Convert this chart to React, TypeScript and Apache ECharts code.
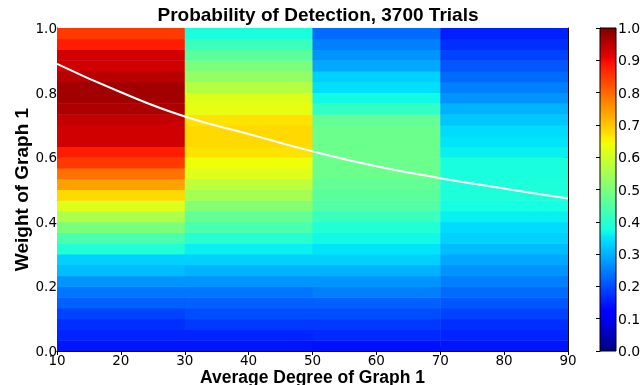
import React, { useEffect, useRef } from "react";
import * as echarts from "echarts";

// Column edges (average degree) and row count (weight 0..1)
const X_EDGES = [10, 30, 50, 70, 90];
const ROW_COUNT = 30;

// Detection probability per row, bottom (weight 0) to top (weight 1)
const col10to30 = [0.145, 0.16, 0.17, 0.19, 0.22, 0.24, 0.27, 0.31, 0.33, 0.39, 0.44, 0.5, 0.56, 0.62, 0.68, 0.74, 0.79, 0.85, 0.88, 0.93, 0.93, 0.94, 0.96, 0.97, 0.97, 0.95, 0.93, 0.93, 0.88, 0.85];
const col30to50 = [0.145, 0.16, 0.18, 0.2, 0.22, 0.24, 0.27, 0.3, 0.33, 0.36, 0.4, 0.44, 0.47, 0.51, 0.55, 0.58, 0.62, 0.64, 0.67, 0.68, 0.68, 0.67, 0.63, 0.62, 0.57, 0.53, 0.5, 0.46, 0.42, 0.38];
const col50to70 = [0.14, 0.165, 0.18, 0.2, 0.22, 0.25, 0.27, 0.3, 0.33, 0.35, 0.37, 0.39, 0.42, 0.45, 0.46, 0.47, 0.48, 0.48, 0.48, 0.48, 0.48, 0.47, 0.41, 0.37, 0.345, 0.33, 0.29, 0.27, 0.25, 0.23];
const col70to90 = [0.145, 0.16, 0.17, 0.19, 0.21, 0.23, 0.25, 0.27, 0.29, 0.31, 0.33, 0.34, 0.36, 0.375, 0.385, 0.385, 0.38, 0.38, 0.36, 0.35, 0.34, 0.32, 0.3, 0.27, 0.25, 0.23, 0.21, 0.19, 0.17, 0.155];
const COLUMNS = [col10to30, col30to50, col50to70, col70to90];

// White curve
const curveX = [10, 20, 30, 40, 50, 60, 70, 80, 90];
const curveY = [0.889, 0.801, 0.726, 0.672, 0.618, 0.572, 0.535, 0.503, 0.472];

const X_TICKS_INTERVAL = 10;
const Y_TICKS_INTERVAL = 0.2;
const CBAR_TICKS_INTERVAL = 0.1;

// matplotlib jet segment data
const JET_R = [[0, 0], [0.35, 0], [0.66, 1], [0.89, 1], [1, 0.5]];
const JET_G = [[0, 0], [0.125, 0], [0.375, 1], [0.64, 1], [0.91, 0], [1, 0]];
const JET_B = [[0, 0.5], [0.11, 1], [0.34, 1], [0.65, 0], [1, 0]];

function seg(s: number[][], v: number) {
  if (v <= s[0][0]) return s[0][1];
  for (let i = 1; i < s.length; i++) {
    if (v <= s[i][0]) {
      const t = (v - s[i - 1][0]) / (s[i][0] - s[i - 1][0]);
      return s[i - 1][1] + t * (s[i][1] - s[i - 1][1]);
    }
  }
  return s[s.length - 1][1];
}
function jet(v: number) {
  const r = Math.round(seg(JET_R, v) * 255);
  const g = Math.round(seg(JET_G, v) * 255);
  const b = Math.round(seg(JET_B, v) * 255);
  return `rgb(${r},${g},${b})`;
}

export default function App() {
  const ref = useRef<HTMLDivElement>(null);
  useEffect(() => {
    if (!ref.current) return;
    const chart = echarts.init(ref.current, undefined, { renderer: "svg" });

    const cells: number[][] = [];
    COLUMNS.forEach((col, c) => {
      col.forEach((v, r) => {
        cells.push([X_EDGES[c], X_EDGES[c + 1], r / ROW_COUNT, (r + 1) / ROW_COUNT, v]);
      });
    });

    const breaks = Array.from(
      new Set([...JET_R, ...JET_G, ...JET_B].map((p) => p[0]))
    ).sort((a, b) => a - b);
    const stops = breaks.map((o) => ({ offset: o, color: jet(o) }));

    const tickFont = { color: "#000", fontSize: 13.5, lineHeight: 13, fontFamily: "DejaVu Sans" };
    const nameFont = {
      color: "#000",
      fontSize: 19,
      lineHeight: 19,
      fontWeight: "bold" as const,
      fontFamily: "Liberation Sans, Arial",
    };
    const blackLine = { show: true, lineStyle: { color: "#000", width: 1 } };
    const inTick = { show: true, inside: true, length: 4, lineStyle: { color: "#000" } };

    chart.setOption({
      animation: false,
      title: {
        text: "Probability of Detection, 3700 Trials",
        left: 313,
        top: 0,
        textAlign: "center",
        textStyle: {
          color: "#000",
          fontSize: 19,
          fontWeight: "bold",
          fontFamily: "Liberation Sans, Arial",
        },
      },
      grid: [
        { left: 57, right: 76, top: 28, bottom: 34, outerBoundsMode: "none" },
        { left: 600, width: 16, top: 28, bottom: 34, outerBoundsMode: "none" },
      ],
      xAxis: [
        {
          gridIndex: 0,
          type: "value",
          min: 10,
          max: 90,
          interval: X_TICKS_INTERVAL,
          axisLine: blackLine,
          axisTick: inTick,
          splitLine: { show: false },
          axisLabel: { ...tickFont, margin: 2 },
          name: "Average Degree of Graph 1",
          nameLocation: "middle",
          nameGap: 17,
          nameMoveOverlap: false,
          nameTextStyle: { ...nameFont, fontSize: 17.5, lineHeight: 17 },
        },
        {
          gridIndex: 0,
          type: "value",
          position: "top",
          min: 10,
          max: 90,
          interval: X_TICKS_INTERVAL,
          axisLine: blackLine,
          axisTick: inTick,
          splitLine: { show: false },
          axisLabel: { show: false },
        },
        { gridIndex: 1, type: "value", min: 0, max: 1, show: false },
      ],
      yAxis: [
        {
          gridIndex: 0,
          type: "value",
          min: 0,
          max: 1,
          interval: Y_TICKS_INTERVAL,
          axisLine: blackLine,
          axisTick: inTick,
          splitLine: { show: false },
          axisLabel: { ...tickFont, margin: 0, formatter: (v: number) => v.toFixed(1) },
          name: "Weight of Graph 1",
          nameLocation: "middle",
          nameGap: 26,
          nameMoveOverlap: false,
          nameTextStyle: nameFont,
        },
        {
          gridIndex: 0,
          type: "value",
          position: "right",
          min: 0,
          max: 1,
          interval: Y_TICKS_INTERVAL,
          axisLine: blackLine,
          axisTick: inTick,
          splitLine: { show: false },
          axisLabel: { show: false },
        },
        {
          gridIndex: 1,
          type: "value",
          position: "right",
          min: 0,
          max: 1,
          interval: CBAR_TICKS_INTERVAL,
          axisLine: blackLine,
          axisTick: inTick,
          splitLine: { show: false },
          axisLabel: { ...tickFont, fontSize: 14, margin: 2, formatter: (v: number) => v.toFixed(1) },
        },
      ],
      series: [
        {
          type: "custom",
          xAxisIndex: 0,
          yAxisIndex: 0,
          data: cells,
          clip: true,
          renderItem: (params: any, api: any) => {
            const p0 = api.coord([api.value(0), api.value(3)]);
            const p1 = api.coord([api.value(1), api.value(2)]);
            return {
              type: "rect",
              shape: {
                x: p0[0],
                y: p0[1],
                width: p1[0] - p0[0] + 0.5,
                height: p1[1] - p0[1] + 0.5,
              },
              style: { fill: jet(api.value(4)) },
            };
          },
        },
        {
          type: "line",
          xAxisIndex: 0,
          yAxisIndex: 0,
          data: curveX.map((x, i) => [x, curveY[i]]),
          smooth: true,
          symbol: "none",
          lineStyle: { color: "#fff", width: 2 },
          z: 5,
        },
        {
          type: "custom",
          xAxisIndex: 2,
          yAxisIndex: 2,
          data: [[0, 0, 1, 1]],
          renderItem: (params: any, api: any) => {
            const p0 = api.coord([0, 1]);
            const p1 = api.coord([1, 0]);
            return {
              type: "rect",
              shape: { x: p0[0], y: p0[1], width: p1[0] - p0[0], height: p1[1] - p0[1] },
              style: {
                fill: new echarts.graphic.LinearGradient(0, 1, 0, 0, stops),
                stroke: "#000",
                lineWidth: 1,
              },
            };
          },
        },
      ],
    });
    return () => chart.dispose();
  }, []);
  return (
    <div
      ref={ref}
      style={{ position: "fixed", left: 0, top: 0, width: 644, height: 385 }}
    />
  );
}
